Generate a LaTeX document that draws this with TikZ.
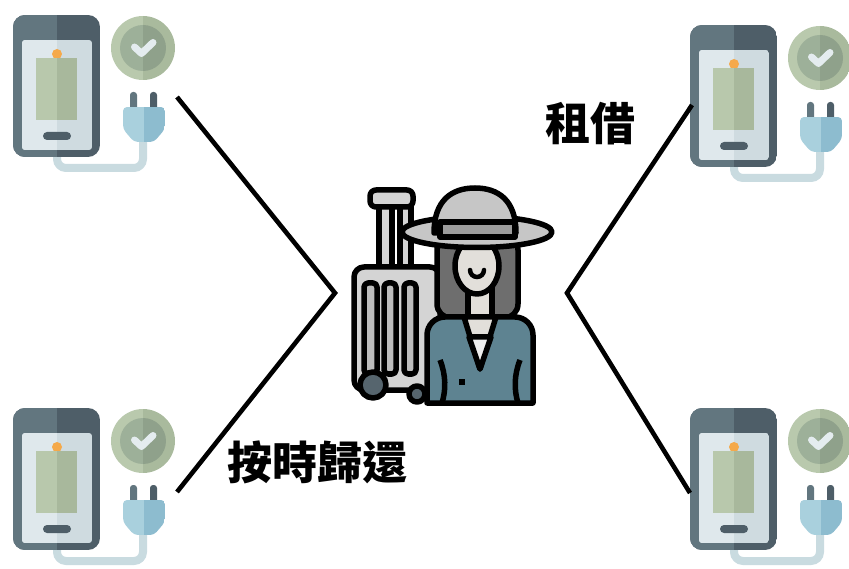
\documentclass[tikz,border=0pt]{standalone}
\usepackage{fontspec}
\newfontfamily\cjk{Noto Sans CJK TC}
\definecolor{phoneL}{HTML}{62767F}
\definecolor{phoneR}{HTML}{4E5E68}
\definecolor{scrL}{HTML}{DFE8EC}
\definecolor{scrR}{HTML}{CFDBE0}
\definecolor{batL}{HTML}{B8C8AC}
\definecolor{batR}{HTML}{A8B89C}
\definecolor{dot}{HTML}{F5A94A}
\definecolor{ringL}{HTML}{B9C9AD}
\definecolor{ringR}{HTML}{A9BA9D}
\definecolor{coreL}{HTML}{9DB099}
\definecolor{coreR}{HTML}{8FA18B}
\definecolor{tick}{HTML}{E4ECEF}
\definecolor{plugL}{HTML}{A9D0DD}
\definecolor{plugR}{HTML}{8DBCCF}
\definecolor{cable}{HTML}{C9DBE0}
\definecolor{caseG}{HTML}{D4D4D4}
\definecolor{slotG}{HTML}{BDBDBD}
\definecolor{wheel}{HTML}{56656E}
\definecolor{hatG}{HTML}{C6C6C6}
\definecolor{bandG}{HTML}{9C9C9C}
\definecolor{hairG}{HTML}{6E6E6E}
\definecolor{skin}{HTML}{E2DFDA}
\definecolor{jacket}{HTML}{5E8391}
\definecolor{shirt}{HTML}{EDEDED}
\tikzset{
  link/.style={line width=4.6pt, black, line join=miter},
  label/.style={font=\cjk\bfseries\fontsize{45pt}{45pt}\selectfont, inner sep=0pt},
  ink/.style={draw=black, line width=5.5pt, line join=round},
  charger/.pic={
    % charging cable behind the phone
    \draw[cable, line width=8pt, rounded corners=9pt] (143,138) -- (143,168) -- (57,168) -- (57,150);
    % phone body, two-tone
    \begin{scope}
      \clip[rounded corners=12pt] (13,15) rectangle (100,157);
      \fill[phoneR] (13,15) rectangle (100,157);
      \fill[phoneL] (13,15) rectangle (56.5,157);
    \end{scope}
    % screen
    \begin{scope}
      \clip[rounded corners=3pt] (22,40) rectangle (92,150);
      \fill[scrR] (22,40) rectangle (92,150);
      \fill[scrL] (22,40) rectangle (57,150);
    \end{scope}
    % battery with its terminal
    \fill[dot] (57,54) circle[radius=5pt];
    \fill[batR] (36,58) rectangle (77,120);
    \fill[batL] (36,58) rectangle (57,120);
    % home button
    \fill[phoneR, rounded corners=4pt] (43,132) rectangle (71,140);
    % check badge
    \begin{scope}
      \clip (143,48) circle[radius=32pt];
      \fill[ringL] (110,15) rectangle (143,81);
      \fill[ringR] (143,15) rectangle (176,81);
    \end{scope}
    \begin{scope}
      \clip (143,48) circle[radius=23pt];
      \fill[coreL] (119,24) rectangle (143,72);
      \fill[coreR] (143,24) rectangle (167,72);
    \end{scope}
    \draw[tick, line width=7pt, line cap=round, line join=round] (134.5,47) -- (141.5,53.5) -- (153,42.5);
    % plug
    \fill[phoneL, rounded corners=3pt] (130,92) rectangle (137,112);
    \fill[phoneR, rounded corners=3pt] (150,92) rectangle (157,112);
    \begin{scope}
      \clip[rounded corners=4pt] (123,107) -- (165,107) -- (165,129) -- (154,142) -- (134,142) -- (123,129) -- cycle;
      \fill[plugL] (123,107) rectangle (144,142);
      \fill[plugR] (144,107) rectangle (165,142);
    \end{scope}
  }
}
\begin{document}
\begin{tikzpicture}[x=1pt, y=-1pt]
  \path[use as bounding box] (0,0) rectangle (849,569);

  % four charging stations
  \pic at (0,0) {charger};
  \pic at (677,10) {charger};
  \pic at (0,393) {charger};
  \pic at (677,393) {charger};

  % connector ends
  \coordinate (tl) at (177,97);
  \coordinate (bl) at (177,492);
  \coordinate (lv) at (335,293);
  \coordinate (tr) at (692,105);
  \coordinate (br) at (690,493);
  \coordinate (rv) at (567,293);

  \draw[link] (tl) -- (lv) -- (bl);
  \draw[link] (tr) -- (rv) -- (br);

  % suitcase handle
  \draw[ink, fill=caseG] (400,205) rectangle (411,268);
  \draw[ink, fill=caseG] (379,205) rectangle (392,268);
  \draw[ink, fill=caseG, rounded corners=6pt] (370,190) rectangle (413,207);
  % suitcase body
  \draw[ink, fill=caseG, rounded corners=10pt] (354,267) rectangle (440,390);
  \foreach \a/\b in {364/377, 384/396, 404/416}
    \draw[ink, fill=slotG, rounded corners=4pt] (\a,283) rectangle (\b,374);
  % wheels
  \draw[ink, fill=wheel] (417,394) circle[radius=8pt];
  \draw[ink, fill=wheel] (373,385) circle[radius=13pt];

  % hair
  \draw[ink, fill=hairG, rounded corners=14pt] (437,236) rectangle (518,318);
  % neck
  \draw[ink, fill=skin] (468,285) rectangle (492,322);
  % jacket
  \draw[ink, fill=jacket] (427,403) -- (427,335) arc[start angle=180, end angle=90, radius=18pt]
    -- (515,317) arc[start angle=90, end angle=0, radius=18pt] -- (533,403) -- cycle;
  % collar and shirt
  \draw[ink, fill=skin] (464,317) -- (496,317) -- (480,369) -- cycle;
  \draw[ink, fill=shirt] (469,337) -- (491,337) -- (480,369) -- cycle;
  \draw[ink] (440,360) .. controls (446,375) and (446,390) .. (442,403);
  \draw[ink] (520,360) .. controls (514,375) and (514,390) .. (518,403);
  \fill[black] (459,379) rectangle (465,385);
  % face
  \draw[ink, fill=skin] (477,266) ellipse[x radius=22pt, y radius=28pt];
  \draw[black, line width=4.5pt, line cap=round] (470,270) arc[start angle=180, end angle=360, radius=7pt];
  % hat
  \draw[ink, fill=hatG] (477,232) ellipse[x radius=75pt, y radius=15.5pt];
  \draw[ink, fill=hatG] (434,233) .. controls (434,200) and (452,188) .. (475,188)
    .. controls (498,188) and (516,200) .. (516,233) -- cycle;
  \draw[ink, fill=bandG] (440,222) rectangle (515,237);

  % labels
  \node[label] (rent) at (590,124) {租借};
  \node[label] (ret) at (317,462) {按時歸還};
\end{tikzpicture}
\end{document}
